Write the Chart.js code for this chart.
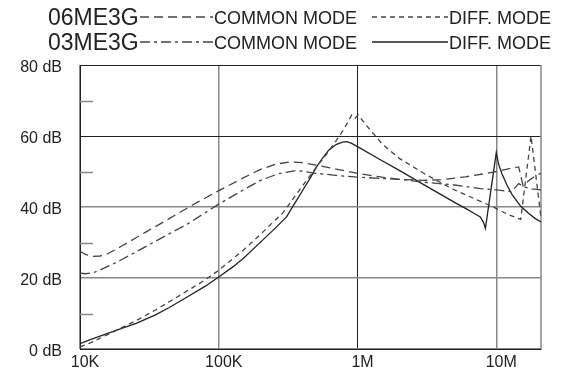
<!DOCTYPE html>
<html>
<head>
<meta charset="utf-8">
<script src="https://cdn.jsdelivr.net/npm/chart.js@4.4.1/dist/chart.umd.min.js"></script>
<style>
  body { margin: 0; background: #fff; }
  #wrap { position: relative; width: 566px; height: 382px; font-family: "Liberation Sans", Arial, sans-serif; color: #222; }
  #chart { position: absolute; left: 0; top: 0; }
  .lg { position: absolute; white-space: nowrap; line-height: 1; }
  .name { font-size: 23px; }
  .mode { font-size: 18px; }
  .smp { position: absolute; display: block; }
</style>
</head>
<body>
<div id="wrap">
  <canvas id="chart" width="566" height="382"></canvas>
  <div id="legend"></div>
</div>
<script>
var xTicks = [1e4, 1e5, 1e6, 1e7];
var xTickLabels = ["10K", "100K", "1M", "10M"];
var yTicks = [0, 20, 40, 60, 80];
var yMinorTicks = [10, 30, 50, 70];

// 06ME3G common mode
var cm06Freq = [10e3, 11e3, 12.5e3, 14e3, 16e3, 20e3, 25e3, 30e3, 40e3, 50e3, 70e3, 100e3, 150e3, 200e3, 260e3, 330e3, 400e3, 500e3, 700e3, 1e6, 1.5e6, 2e6, 3e6, 4e6, 6e6, 8e6, 10e6, 12e6, 14.5e6, 15.6e6, 17e6, 19e6, 21e6];
var cm06Db = [27.5, 26.6, 26.1, 26.2, 26.9, 29.0, 31.2, 33.0, 35.8, 38.0, 41.3, 44.6, 48.2, 50.6, 52.1, 52.7, 52.5, 51.8, 50.7, 49.5, 48.4, 47.8, 47.5, 47.7, 48.5, 49.3, 50.0, 50.7, 51.3, 46.0, 47.3, 48.7, 49.5];
// 06ME3G differential mode
var dm06Freq = [10e3, 12e3, 14.6e3, 20e3, 25.4e3, 35e3, 44e3, 60e3, 80e3, 100e3, 127e3, 150e3, 200e3, 250e3, 291e3, 350e3, 420e3, 507e3, 600e3, 700e3, 800e3, 908e3, 960e3, 1.01e6, 1.2e6, 1.5e6, 2e6, 3e6, 4e6, 5e6, 7e6, 9.5e6, 12e6, 15e6, 17.8e6, 21e6];
var dm06Db = [0.6, 1.8, 3.4, 6.0, 8.0, 11.0, 13.3, 16.5, 19.5, 22.2, 25.5, 27.8, 32.3, 36.0, 38.4, 42.8, 47.0, 51.3, 55.0, 58.6, 62.0, 65.9, 65.0, 65.9, 62.3, 57.8, 53.7, 49.5, 46.8, 44.8, 42.3, 40.0, 38.0, 36.5, 60.0, 37.0];
// 03ME3G common mode
var cm03Freq = [10e3, 11e3, 12.5e3, 14e3, 17e3, 20e3, 30e3, 40e3, 60e3, 100e3, 150e3, 200e3, 270e3, 350e3, 400e3, 500e3, 700e3, 1e6, 2e6, 3e6, 5e6, 7.7e6, 10e6, 12.9e6, 14.5e6, 16e6, 18e6, 21e6];
var cm03Db = [21.4, 21.2, 21.5, 22.3, 23.8, 25.2, 28.9, 31.6, 35.3, 40.8, 44.8, 47.5, 49.4, 50.2, 50.1, 49.5, 48.9, 48.4, 47.8, 47.0, 46.2, 45.2, 44.8, 44.3, 46.6, 45.6, 45.1, 44.8];
// 03ME3G differential mode
var dm03Freq = [10e3, 12e3, 14.6e3, 20e3, 25.4e3, 35e3, 44e3, 60e3, 80e3, 100e3, 127e3, 150e3, 200e3, 250e3, 308e3, 350e3, 400e3, 450e3, 507e3, 560e3, 620e3, 700e3, 780e3, 836e3, 900e3, 1e6, 1.46e6, 2e6, 3e6, 4e6, 5e6, 6e6, 7e6, 7.67e6, 8.1e6, 8.35e6, 10e6, 10.4e6, 11e6, 12e6, 13e6, 15e6, 17e6, 19e6, 21e6];
var dm03Db = [1.5, 2.7, 3.9, 5.8, 7.2, 9.6, 11.7, 14.8, 17.7, 20.3, 23.2, 25.5, 30.1, 33.7, 37.2, 40.8, 44.5, 47.8, 51.3, 53.8, 56.0, 57.6, 58.3, 58.4, 58.0, 57.0, 53.3, 50.3, 46.3, 43.5, 41.3, 39.6, 38.1, 37.2, 35.6, 34.0, 55.3, 52.0, 49.3, 46.0, 43.5, 40.2, 38.3, 36.8, 35.8];

function toPoints(freq, db) {
  return freq.map(function (f, i) {
    return { x: f, y: db[i] };
  });
}

function makeDataset(label, freq, db, st) {
  return {
    label: label,
    data: toPoints(freq, db),
    borderColor: st.color,
    borderWidth: 1.3,
    borderDash: st.dash,
    pointRadius: 0,
    tension: 0,
    fill: false,
  };
}

var styles = {
  cm06: { color: "#444", dash: [9, 5] },
  dm06: { color: "#444", dash: [5, 4] },
  cm03: { color: "#444", dash: [10, 4, 3, 4] },
  dm03: { color: "#222", dash: [] },
};

var frame = {
  id: "frame",
  beforeDatasetsDraw(chart) {
    var c = chart.ctx,
      a = chart.chartArea,
      y = chart.scales.y;
    c.save();
    c.strokeStyle = "#888";
    c.lineWidth = 1.5;
    yMinorTicks.forEach(function (v) {
      var p = Math.round(y.getPixelForValue(v)) + 0.5;
      c.beginPath();
      c.moveTo(a.left, p);
      c.lineTo(a.left + 13, p);
      c.stroke();
    });
    c.beginPath();
    c.moveTo(a.right, a.top);
    c.lineTo(a.right, a.bottom);
    c.stroke();
    c.restore();
  },
};

function isDark(ctx, values) {
  return ctx.tick && values.indexOf(ctx.tick.value) >= 0;
}

new Chart(document.getElementById("chart"), {
  type: "line",
  data: {
    datasets: [
      makeDataset("06ME3G COMMON MODE", cm06Freq, cm06Db, styles.cm06),
      makeDataset("06ME3G DIFF. MODE", dm06Freq, dm06Db, styles.dm06),
      makeDataset("03ME3G COMMON MODE", cm03Freq, cm03Db, styles.cm03),
      makeDataset("03ME3G DIFF. MODE", dm03Freq, dm03Db, styles.dm03),
    ],
  },
  options: {
    responsive: false,
    animation: false,
    layout: { padding: { top: 65, right: 25, left: 0, bottom: 0 } },
    plugins: { legend: { display: false }, tooltip: { enabled: false } },
    scales: {
      x: {
        type: "logarithmic",
        min: 1e4,
        max: 2.1e7,
        afterBuildTicks(s) {
          s.ticks = xTicks.map(function (v) {
            return { value: v };
          });
        },
        afterFit(s) {
          s.height = 33;
        },
        ticks: {
          autoSkip: false,
          maxRotation: 0,
          padding: 4,
          labelOffset: 5,
          color: "#222",
          font: { family: "Liberation Sans", size: 16 },
          callback(v) {
            var i = xTicks.indexOf(v);
            return i < 0 ? "" : xTickLabels[i];
          },
        },
        grid: {
          color: (ctx) => (isDark(ctx, [1e6]) ? "#222" : "#888"),
          lineWidth: (ctx) => (isDark(ctx, [1e6]) ? 1 : 1.5),
          drawTicks: false,
        },
        border: { color: "#222", width: 1 },
      },
      y: {
        min: 0,
        max: 80,
        afterBuildTicks(s) {
          s.ticks = yTicks.map(function (v) {
            return { value: v };
          });
        },
        afterFit(s) {
          s.width = 80;
        },
        ticks: {
          padding: 18,
          labelOffset: 3,
          color: "#222",
          font: { family: "Liberation Sans", size: 16 },
          callback(v) {
            return v + " dB";
          },
        },
        grid: {
          color: (ctx) => (isDark(ctx, [60, 80]) ? "#222" : "#888"),
          lineWidth: (ctx) => (isDark(ctx, [60, 80]) ? 1 : 1.5),
          drawTicks: false,
        },
        border: { color: "#222", width: 1 },
      },
    },
  },
  plugins: [frame],
});

// two-row legend: name, sample, COMMON MODE, sample, DIFF. MODE
var legendRows = [
  { name: "06ME3G", top: 6, cm: styles.cm06, dm: styles.dm06 },
  { name: "03ME3G", top: 31, cm: styles.cm03, dm: styles.dm03 },
];

function sample(x, y, w, st) {
  return (
    '<svg class="smp" style="left:' + x + "px;top:" + (y - 2) + 'px" width="' + w + '" height="4">' +
    '<line x1="0" y1="2" x2="' + w + '" y2="2" stroke="' + st.color + '" stroke-width="1.3"' +
    (st.dash.length ? ' stroke-dasharray="' + st.dash.join(" ") + '"' : "") + "/></svg>"
  );
}

var html = "";
legendRows.forEach(function (r) {
  var mid = r.top + 11;
  html += '<div class="lg name" style="left:48px;top:' + r.top + 'px">' + r.name + "</div>";
  html += sample(140, mid, 73, r.cm);
  html += '<div class="lg mode" style="left:214px;top:' + (r.top + 3) + 'px">COMMON MODE</div>';
  html += sample(372, mid, 76, r.dm);
  html += '<div class="lg mode" style="left:449px;top:' + (r.top + 3) + 'px">DIFF. MODE</div>';
});
document.getElementById("legend").innerHTML = html;
</script>
</body>
</html>
